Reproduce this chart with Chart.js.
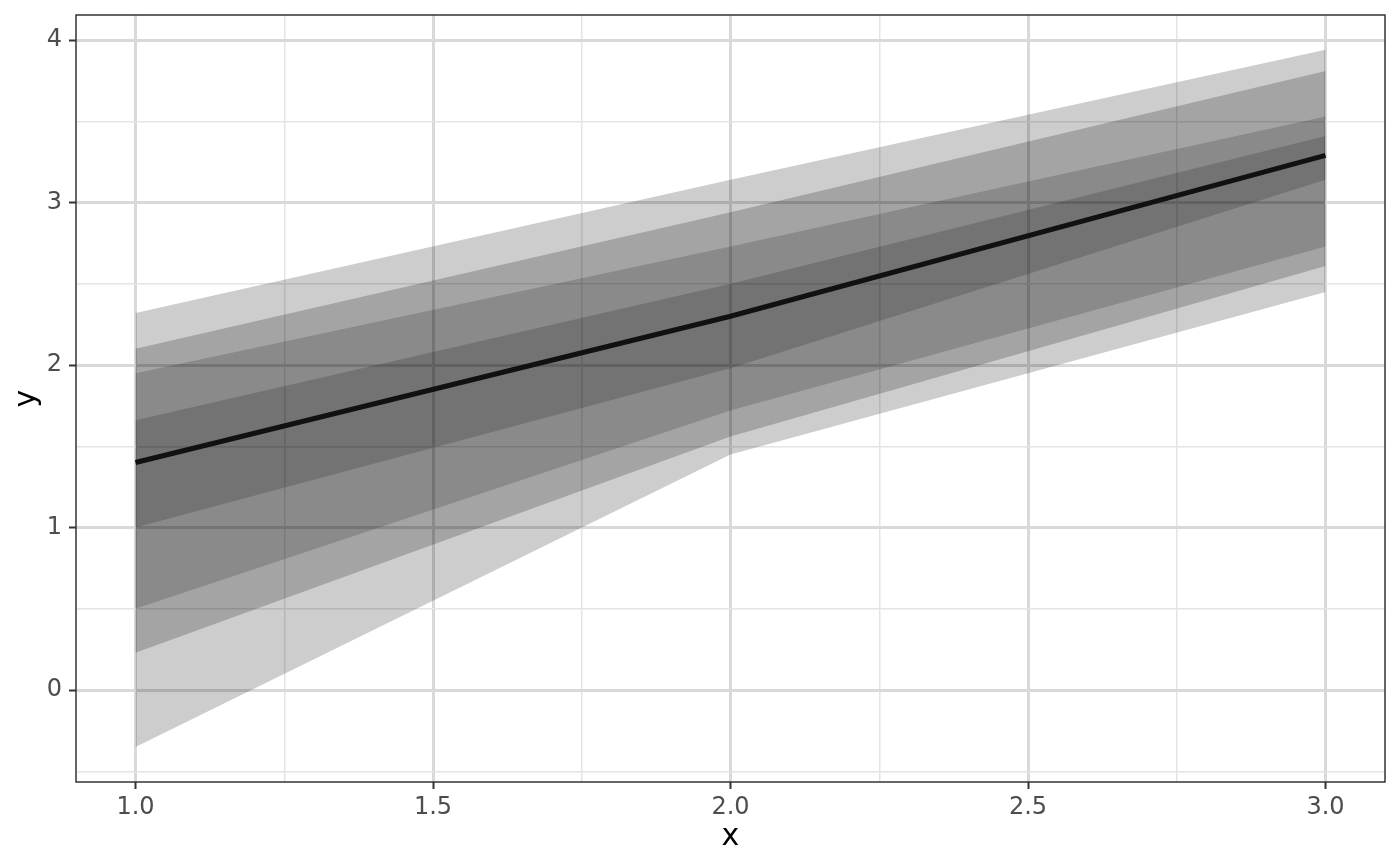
<!DOCTYPE html>
<html>
<head>
<meta charset="utf-8">
<script src="https://cdn.jsdelivr.net/npm/chart.js@4"></script>
<style>
  html, body { margin: 0; padding: 0; background: #fff; }
  #wrap { width: 1400px; height: 866px; }
</style>
</head>
<body>
<div id="wrap"><canvas id="chart" width="1400" height="866"></canvas></div>
<script>
// values
const xs = [1, 2, 3];
const median = [1.40, 2.30, 3.29];

// nested intervals, widest first
const band1Upper = [2.32, 3.14, 3.94];
const band1Lower = [-0.35, 1.45, 2.45];
const band2Upper = [2.10, 2.94, 3.81];
const band2Lower = [0.23, 1.56, 2.61];
const band3Upper = [1.95, 2.73, 3.53];
const band3Lower = [0.50, 1.72, 2.73];
const band4Upper = [1.66, 2.50, 3.41];
const band4Lower = [1.00, 1.98, 3.14];

const xMajor = [1, 1.5, 2, 2.5, 3];
const xLabels = ['1.0', '1.5', '2.0', '2.5', '3.0'];
const xMinor = [1.25, 1.75, 2.25, 2.75];
const yMajor = [0, 1, 2, 3, 4];
const yLabels = ['0', '1', '2', '3', '4'];
const yMinor = [-0.5, 0.5, 1.5, 2.5, 3.5];

const toPoints = ys => xs.map((x, i) => ({ x: x, y: ys[i] }));

const bands = [
    { upper: band1Upper, lower: band1Lower, alpha: 0.195 },
    { upper: band2Upper, lower: band2Lower, alpha: 0.205 },
    { upper: band3Upper, lower: band3Lower, alpha: 0.16 },
    { upper: band4Upper, lower: band4Lower, alpha: 0.165 }
];

const datasets = [{
    data: toPoints(median),
    borderColor: '#111111',
    borderWidth: 5,
    pointRadius: 0,
    fill: false
}];

bands.forEach(b => {
    const lowerIndex = datasets.length + 1;
    datasets.push({
        data: toPoints(b.upper),
        borderWidth: 0,
        pointRadius: 0,
        backgroundColor: `rgba(0, 0, 0, ${b.alpha})`,
        fill: { target: lowerIndex }
    });
    datasets.push({
        data: toPoints(b.lower),
        borderWidth: 0,
        pointRadius: 0,
        fill: false
    });
});

const isMajor = (list, v) => list.some(m => Math.abs(m - v) < 1e-9);

function gridFor(major) {
    return {
        color: ctx => isMajor(major, ctx.tick.value) ? '#d9d9d9' : '#e4e4e4',
        lineWidth: ctx => isMajor(major, ctx.tick.value) ? 3 : 1.5,
        tickColor: ctx => isMajor(major, ctx.tick.value) ? '#333333' : 'rgba(0,0,0,0)',
        tickWidth: 2,
        tickLength: 7
    };
}

const panelBorder = {
    id: 'panelBorder',
    afterDatasetsDraw(chart) {
        const a = chart.chartArea;
        const c = chart.ctx;
        c.save();
        c.strokeStyle = '#333333';
        c.lineWidth = 1.5;
        c.strokeRect(a.left, a.top, a.right - a.left, a.bottom - a.top);
        c.restore();
    }
};

new Chart(document.getElementById('chart'), {
    type: 'line',
    data: { datasets: datasets },
    options: {
        responsive: false,
        animation: false,
        layout: { padding: { left: 0, right: 15, top: 15, bottom: 0 } },
        plugins: {
            legend: { display: false },
            tooltip: { enabled: false }
        },
        elements: { line: { tension: 0 } },
        scales: {
            x: {
                type: 'linear',
                min: 0.9,
                max: 3.1,
                afterBuildTicks: scale => {
                    scale.ticks = xMajor.concat(xMinor).sort((a, b) => a - b).map(v => ({ value: v }));
                },
                afterFit: scale => {
                    scale.height = 84;
                    scale.paddingLeft = 0;
                    scale.paddingRight = 0;
                },
                grid: gridFor(xMajor),
                border: { display: false },
                ticks: {
                    autoSkip: false,
                    maxRotation: 0,
                    padding: 4,
                    color: '#4d4d4d',
                    font: { family: 'DejaVu Sans', size: 24 },
                    callback: v => {
                        const i = xMajor.findIndex(m => Math.abs(m - v) < 1e-9);
                        return i >= 0 ? xLabels[i] : '';
                    }
                },
                title: {
                    display: true,
                    text: 'x',
                    color: '#000000',
                    font: { family: 'DejaVu Sans', size: 30 },
                    padding: { top: 0, bottom: 11 }
                }
            },
            y: {
                type: 'linear',
                min: -0.566,
                max: 4.154,
                afterBuildTicks: scale => {
                    scale.ticks = yMajor.concat(yMinor).sort((a, b) => a - b).map(v => ({ value: v }));
                },
                afterFit: scale => {
                    scale.width = 76;
                    scale.paddingTop = 0;
                    scale.paddingBottom = 0;
                },
                grid: gridFor(yMajor),
                border: { display: false },
                ticks: {
                    autoSkip: false,
                    padding: 7,
                    color: '#4d4d4d',
                    font: { family: 'DejaVu Sans', size: 24 },
                    callback: v => {
                        const i = yMajor.findIndex(m => Math.abs(m - v) < 1e-9);
                        return i >= 0 ? yLabels[i] : '';
                    }
                },
                title: {
                    display: true,
                    text: 'y',
                    color: '#000000',
                    font: { family: 'DejaVu Sans', size: 30 },
                    padding: { top: 9, bottom: 0 }
                }
            }
        }
    },
    plugins: [panelBorder]
});
</script>
</body>
</html>
